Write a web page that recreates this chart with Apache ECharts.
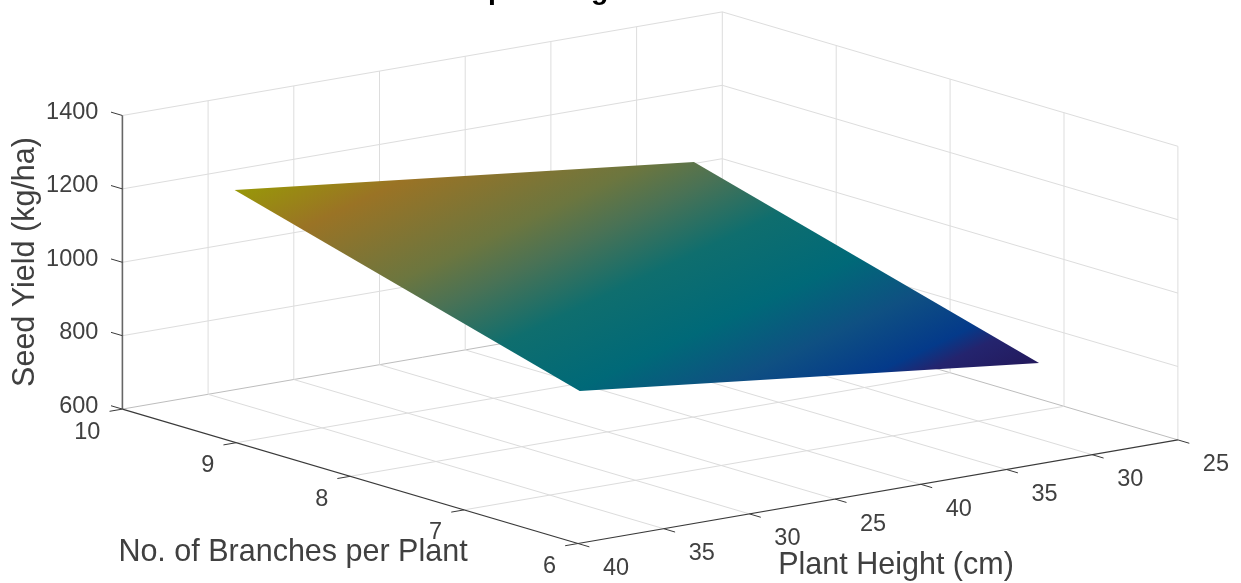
<!DOCTYPE html>
<html>
<head>
<meta charset="utf-8">
<style>html,body{margin:0;padding:0;background:#fff}#c{width:1241px;height:583px}</style>
<script src="https://cdn.jsdelivr.net/npm/echarts@6/dist/echarts.min.js"></script>
</head>
<body>
<div id="c"></div>
<script>
// ---- chart values ----
const heightTickLabels = ['40','35','30','25','40','35','30','25'];
const branchTicks = [6,7,8,9,10];
const yieldTicks = [600,800,1000,1200,1400];
// surface corners: position along the height axis (tick index), branches, yield
const surfaceHeightPos = [0.02,5.38,5.38,0.02];
const surfaceBranches  = [6,6,9.03,9.03];
const surfaceYield     = [1015,875,1145,1285];
// colour ramp of the surface, by yield
const rampYield  = [875,908,925,969,1017,1077,1126,1160,1233,1285];
const rampColors = ['#23195c','#24246e','#043a8a','#0f5082','#006978','#0f6e6e','#4a7255','#6c763f','#9a7325','#989808'];
const titleText = 'Spreading';
const xName = 'Plant Height (cm)';
const yName = 'No. of Branches per Plant';
const zName = 'Seed Yield (kg/ha)';

// ---- view of the 3D box ----
const view = {ox:578, oy:543.5, ux:85.7, uy:-14.8, vx:-113.9, vy:-33.6, zy:-0.367};
function project(u,b,y){
  const v=b-6, z=y-600;
  return [view.ox+u*view.ux+v*view.vx, view.oy+u*view.uy+v*view.vy+z*view.zy];
}
const uMax = heightTickLabels.length-1, bMin=6, bMax=10, yMin=600, yMax=1400;
const GRID='#dddddd', FLOOR='#bdbdbd', FLOORIN='#dcdcdc', AX='#3a3a3a', ZAX='#666666';
const segs=[];
function seg(a,b,c,w){segs.push({value:[...a,...b],c:c,w:w});}
// walls
yieldTicks.forEach(y=>{
  seg([0,bMax,y],[uMax,bMax,y],y===yMin?FLOOR:GRID,1);
  seg([uMax,bMax,y],[uMax,bMin,y],y===yMin?FLOOR:GRID,1);
});
heightTickLabels.forEach((t,i)=>{ if(i>0) seg([i,bMax,yMin],[i,bMax,yMax],GRID,1); });
branchTicks.forEach(b=>{ if(b<bMax) seg([uMax,b,yMin],[uMax,b,yMax],GRID,1); });
// floor
heightTickLabels.forEach((t,i)=>{ if(i>0&&i<uMax) seg([i,bMin,yMin],[i,bMax,yMin],FLOORIN,1); });
branchTicks.forEach(b=>{ if(b>bMin&&b<bMax) seg([0,b,yMin],[uMax,b,yMin],FLOORIN,1); });
// axes
const axisSegs=[];
function aseg(a,b,c,w){axisSegs.push({value:[...a,...b],c:c,w:w});}
aseg([0,bMin,yMin],[0,bMax,yMin],AX,1.2);
aseg([0,bMin,yMin],[uMax,bMin,yMin],AX,1.2);
aseg([0,bMax,yMin],[0,bMax,yMax],ZAX,1.6);
// ticks
heightTickLabels.forEach((t,i)=>aseg([i,bMin,yMin],[i,bMin-0.1,yMin],AX,1));
branchTicks.forEach(b=>aseg([0,b,yMin],[-0.15,b,yMin],AX,1));
yieldTicks.forEach(y=>aseg([0,bMax,y],[0,bMax+0.1,y],AX,1));

function lineRender(list){
  return function(params,api){
    const d=list[params.dataIndex].value, s=list[params.dataIndex];
    const p=api.coord(project(d[0],d[1],d[2])), q=api.coord(project(d[3],d[4],d[5]));
    return {type:'line',shape:{x1:p[0],y1:p[1],x2:q[0],y2:q[1]},style:{stroke:s.c,lineWidth:s.w},silent:true};
  };
}
const surfacePts = surfaceYield.map((y,i)=>[surfaceHeightPos[i],surfaceBranches[i],y]);
function renderSurface(params,api){
  const pts=surfacePts.map(d=>api.coord(project(d[0],d[1],d[2])));
  // yield is linear on the flat surface: find its direction on screen
  const e1=[pts[1][0]-pts[0][0],pts[1][1]-pts[0][1]], d1=surfaceYield[1]-surfaceYield[0];
  const e2=[pts[3][0]-pts[0][0],pts[3][1]-pts[0][1]], d2=surfaceYield[3]-surfaceYield[0];
  const det=e1[0]*e2[1]-e1[1]*e2[0];
  const gx=(d1*e2[1]-d2*e1[1])/det, gy=(e1[0]*d2-e2[0]*d1)/det, g2=gx*gx+gy*gy;
  const lo=rampYield[0], hi=rampYield[rampYield.length-1];
  const at=(y)=>{const k=(y-surfaceYield[0])/g2;return [pts[0][0]+gx*k,pts[0][1]+gy*k];};
  const a=at(lo), b=at(hi);
  return {type:'polygon',shape:{points:pts},silent:true,style:{
    fill:{type:'linear',x:a[0],y:a[1],x2:b[0],y2:b[1],global:true,
      colorStops:rampYield.map((y,i)=>({offset:(y-lo)/(hi-lo),color:rampColors[i]}))},
    stroke:null}};
}
const labelData=[];
heightTickLabels.forEach((t,i)=>labelData.push({value:project(i,bMin,yMin),dx:38,dy:25,align:'center',text:t}));
branchTicks.forEach(b=>labelData.push({value:project(0,b,yMin),dx:-22,dy:23,align:'right',text:String(b)}));
yieldTicks.forEach(y=>labelData.push({value:project(0,bMax,y),dx:-24,dy:-3,align:'right',text:String(y)}));
function renderLabel(params,api){
  const d=labelData[params.dataIndex], p=api.coord(d.value);
  return {type:'text',silent:true,x:p[0]+d.dx,y:p[1]+d.dy,style:{text:d.text,
    font:'23.5px "Liberation Sans"',fill:'#404040',align:d.align,verticalAlign:'middle'}};
}
const chart=echarts.init(document.getElementById('c'),null,{renderer:'canvas'});
const font='30.5px "Liberation Sans"';
chart.setOption({
  animation:false,
  backgroundColor:'#ffffff',
  grid:{left:0,right:0,top:0,bottom:0},
  xAxis:{type:'value',min:0,max:1241,show:false},
  yAxis:{type:'value',min:0,max:583,inverse:true,show:false},
  tooltip:{show:false},
  series:[
    {type:'custom',coordinateSystem:'cartesian2d',renderItem:lineRender(segs),data:segs.map(s=>s.value),z:1,clip:false},
    {type:'custom',coordinateSystem:'cartesian2d',renderItem:lineRender(axisSegs),data:axisSegs.map(s=>s.value),z:2,clip:false},
    {type:'custom',coordinateSystem:'cartesian2d',renderItem:renderSurface,data:[surfaceYield],z:3,clip:false},
    {type:'custom',coordinateSystem:'cartesian2d',renderItem:renderLabel,data:labelData.map(d=>d.value),z:4,clip:false}
  ],
  graphic:[
    {type:'text',x:469,y:6,silent:true,style:{text:titleText,font:'bold 28.5px "Liberation Sans"',fill:'#000',verticalAlign:'bottom'}},
    {type:'text',x:293,y:553,silent:true,style:{text:yName,font:font,fill:'#404040',align:'center',verticalAlign:'middle'}},
    {type:'text',x:896,y:566,silent:true,style:{text:xName,font:font,fill:'#404040',align:'center',verticalAlign:'middle'}},
    {type:'text',x:26,y:262,rotation:Math.PI/2,silent:true,style:{text:zName,font:font,fill:'#404040',align:'center',verticalAlign:'middle'}}
  ]
});
</script>
</body>
</html>
